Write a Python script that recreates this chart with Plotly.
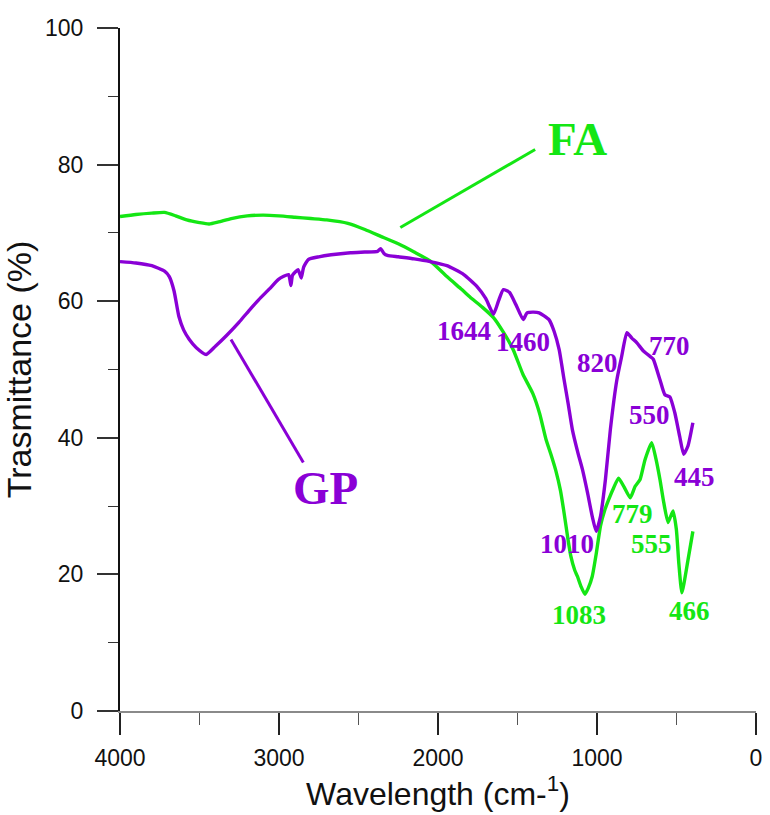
import plotly.graph_objects as go

# ---- data ----
fa_x = [4000, 3900, 3800, 3720, 3650, 3580, 3500, 3440, 3380, 3300, 3200, 3100, 3000, 2900, 2800,
        2700, 2567, 2460, 2360, 2250, 2150, 2050, 1944, 1850, 1788, 1720, 1651, 1590, 1527, 1466,
        1404, 1360, 1321, 1290, 1259, 1230, 1207, 1185, 1165, 1140, 1123, 1100, 1076, 1055, 1030,
        1005, 978, 950, 926, 895, 864, 830, 791, 760, 729, 698, 656, 630, 604, 580, 553, 522, 501,
        485, 466, 430, 397]
fa_y = [72.4, 72.7, 72.9, 73.0, 72.5, 71.9, 71.5, 71.3, 71.6, 72.1, 72.5, 72.6, 72.5, 72.3, 72.1,
        71.9, 71.4, 70.5, 69.5, 68.4, 67.2, 65.9, 63.6, 61.7, 60.4, 59.1, 57.6, 55.5, 52.9, 49.3,
        46.5, 43.5, 39.8, 37.6, 35.2, 32.3, 29.0, 25.5, 22.7, 20.6, 19.7, 18.2, 17.1, 18.0, 19.7,
        23.0, 27.1, 29.5, 31.0, 32.7, 34.1, 32.8, 31.2, 32.9, 33.9, 36.8, 39.3, 37.0, 33.9, 30.5,
        27.6, 29.3, 26.6, 21.5, 17.3, 21.8, 26.3]

gp_x = [4000, 3900, 3800, 3720, 3690, 3660, 3630, 3600, 3564, 3520, 3458, 3400, 3333, 3252, 3190,
        3128, 3060, 3003, 2940, 2925, 2915, 2880, 2860, 2845, 2816, 2750, 2672, 2550, 2461, 2380,
        2361, 2340, 2318, 2250, 2150, 2050, 1944, 1838, 1757, 1700, 1651, 1620, 1589, 1551, 1510,
        1464, 1440, 1400, 1364, 1302, 1270, 1238, 1207, 1180, 1155, 1120, 1092, 1060, 1030, 1005,
        978, 947, 916, 875, 845, 812, 781, 749, 708, 660, 646, 604, 573, 542, 511, 480, 455, 428, 397]
gp_y = [65.8, 65.6, 65.2, 64.4, 63.6, 61.5, 57.8, 55.8, 54.4, 53.2, 52.2, 53.4, 54.9, 56.9, 58.6,
        60.2, 61.8, 63.2, 63.9, 62.3, 63.8, 64.6, 63.4, 65.0, 66.1, 66.5, 66.8, 67.1, 67.2, 67.3,
        67.7, 67.0, 66.7, 66.5, 66.2, 65.8, 65.2, 63.9, 62.2, 60.4, 58.1, 60.0, 61.7, 61.3, 59.5,
        57.3, 58.3, 58.4, 58.3, 57.3, 55.6, 52.9, 48.5, 44.8, 41.2, 37.8, 35.4, 32.0, 28.5, 26.3,
        28.5, 33.9, 41.2, 48.5, 51.9, 55.4, 54.6, 53.9, 52.7, 51.8, 51.5, 48.5, 46.3, 46.0, 43.7,
        40.2, 37.6, 38.8, 42.2]

gp_peak_labels = ["1644", "1460", "820", "770", "550", "445", "1010"]
gp_peak_x = [1838, 1464, 997, 542, 667, 386, 1190]
gp_peak_y = [55.6, 54.1, 51.0, 53.5, 43.4, 34.2, 24.5]

fa_peak_labels = ["779", "555", "1083", "466"]
fa_peak_x = [779, 660, 1115, 417]
fa_peak_y = [28.8, 24.4, 14.0, 14.6]

series_names = ["FA", "GP"]
name_x = [1122, 2710]
name_y = [83.8, 32.6]
pointer_x0 = [2237, 3302]
pointer_y0 = [70.8, 54.4]
pointer_x1 = [1389, 2847]
pointer_y1 = [82.2, 36.4]

GREEN = "#14E614"
PURPLE = "#8A00D6"
colors = [GREEN, PURPLE]

fig = go.Figure()
fig.add_trace(go.Scatter(x=fa_x, y=fa_y, mode="lines", name="FA",
                         line=dict(color=GREEN, width=3.4, shape="spline", smoothing=0.5)))
fig.add_trace(go.Scatter(x=gp_x, y=gp_y, mode="lines", name="GP",
                         line=dict(color=PURPLE, width=3.4, shape="spline", smoothing=0.5)))

serif = "Liberation Serif"
for t, x, y in zip(gp_peak_labels, gp_peak_x, gp_peak_y):
    fig.add_annotation(x=x, y=y, text="<b>%s</b>" % t, showarrow=False,
                       font=dict(family=serif, size=27, color=PURPLE))
for t, x, y in zip(fa_peak_labels, fa_peak_x, fa_peak_y):
    fig.add_annotation(x=x, y=y, text="<b>%s</b>" % t, showarrow=False,
                       font=dict(family=serif, size=27, color=GREEN))
for t, x, y, c in zip(series_names, name_x, name_y, colors):
    fig.add_annotation(x=x, y=y, text="<b>%s</b>" % t, showarrow=False,
                       font=dict(family=serif, size=47, color=c))
for x0, y0, x1, y1, c in zip(pointer_x0, pointer_y0, pointer_x1, pointer_y1, colors):
    fig.add_shape(type="line", x0=x0, y0=y0, x1=x1, y1=y1, xref="x", yref="y",
                  line=dict(color=c, width=3))

sans = "Liberation Sans"
fig.update_layout(
    width=770, height=815,
    margin=dict(l=120, r=8, t=28, b=104),
    paper_bgcolor="white", plot_bgcolor="white",
    showlegend=False,
    font=dict(family=sans, color="#111111"),
    xaxis=dict(
        range=[4000, 0], dtick=1000, tick0=0,
        showgrid=False, zeroline=False,
        showline=True, linecolor="#8a8a8a", linewidth=1.5,
        ticks="outside", ticklen=22, tickwidth=1.5, tickcolor="#222222",
        ticklabelstandoff=4,
        tickfont=dict(size=23, family=sans, color="#111111"),
        minor=dict(dtick=500, ticks="outside", ticklen=12, tickwidth=1.2, tickcolor="#555555"),
        title=dict(text="Wavelength (cm-<sup>1</sup>)", standoff=8,
                   font=dict(size=32, family=sans, color="#111111")),
    ),
    yaxis=dict(
        range=[0, 100], dtick=20, tick0=0,
        showgrid=False, zeroline=False,
        showline=True, linecolor="#111111", linewidth=2,
        ticks="outside", ticklen=21, tickwidth=1.5, tickcolor="#333333",
        ticklabelstandoff=9,
        tickfont=dict(size=23, family=sans, color="#111111"),
        minor=dict(dtick=10, ticks="outside", ticklen=10, tickwidth=1.2, tickcolor="#333333"),
        title=dict(text="Trasmittance (%)", standoff=4,
                   font=dict(size=34, family=sans, color="#111111")),
    ),
)

fig.write_html("out.html")
